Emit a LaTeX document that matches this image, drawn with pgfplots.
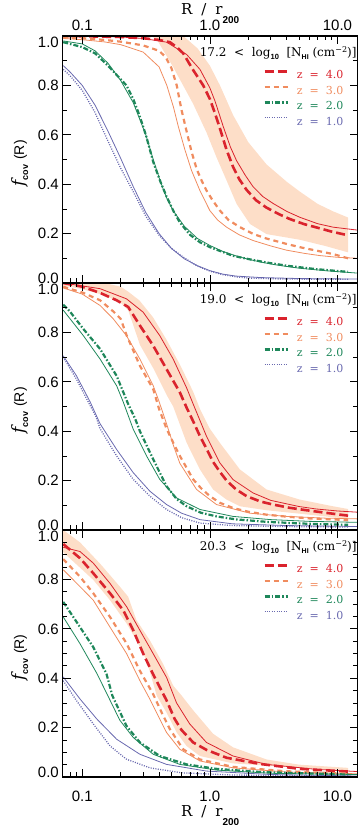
\documentclass[border=0pt]{standalone}
\usepackage{fontspec}
\setmainfont{Liberation Sans}
\newfontfamily\dvs{DejaVu Serif}
\newfontfamily\lsans{Liberation Sans}
\usepackage{pgfplots}
\pgfplotsset{compat=1.18}

\definecolor{zred}{RGB}{218,35,45}
\definecolor{zorange}{RGB}{240,140,95}
\definecolor{zgreen}{RGB}{30,135,90}
\definecolor{zblue}{RGB}{105,105,175}
\definecolor{bandfill}{RGB}{253,222,200}

% tick labels shifted vertically (zero-height boxes)
\newcommand\ytl[2]{\raisebox{#1}[0pt][0pt]{#2}}
\newcommand\Rlabel{{\dvs\fontsize{15}{15}\selectfont R\hspace{0.6em}/\hspace{0.6em}r}\raisebox{-9pt}{\lsans\bfseries\fontsize{10}{10}\selectfont 200}}
\newcommand\fcovlabel{{\dvs\itshape\fontsize{17}{17}\selectfont f}\raisebox{-4pt}{\lsans\bfseries\fontsize{9}{9}\selectfont cov}\hspace{5pt}{\fontsize{14}{14}\selectfont (R)}}
\newcommand\nhi[1]{\node[anchor=base east, inner sep=0pt, xshift=-1pt, yshift=-20.3pt,
  font=\dvs\fontsize{12}{12}\selectfont] at (rel axis cs:1,1)
  {#1\ \ <\ \ log\raisebox{-3pt}{\lsans\bfseries\fontsize{7.5}{7.5}\selectfont 10}\ \ [N\raisebox{-3pt}{\lsans\bfseries\fontsize{7}{7}\selectfont HI}\ (cm\raisebox{4pt}{\fontsize{8}{8}\selectfont −2})]};}
\newcommand\zentry[2]{\addlegendentry{\textcolor{#1}{z\ \ =\ \ #2}}}

% settings shared by the three panels
\pgfplotsset{
  scale only axis, width=295pt, height=247pt,
  xmin=0.0703, xmax=14.4, ymin=0, ymax=1,
  axis on top,
  axis line style={line width=1.2pt},
  tick style={black, line width=0.7pt},
  major tick length=8pt, minor tick length=4.5pt,
  tick align=inside,
  xtick={0.1,1,10},
  minor xtick={0.08,0.09,0.2,0.3,0.4,0.5,0.6,0.7,0.8,0.9,2,3,4,5,6,7,8,9},
  ytick={0,0.2,0.4,0.6,0.8,1},
  yticklabels={\ytl{-1pt}{0.0},\ytl{-5.35pt}{0.2},\ytl{-5.35pt}{0.4},\ytl{-5.35pt}{0.6},\ytl{-5.35pt}{0.8},\ytl{-11.35pt}{1.0}},
  tick label style={font=\fontsize{15}{15}\selectfont},
  yticklabel style={inner sep=0pt, xshift=-3.7pt},
  legend cell align=left,
  legend image code/.code={\draw[#1] (0pt,3.5pt) -- (23pt,3.5pt);},
  legend style={draw=none, fill=none, inner sep=0pt, outer sep=0pt,
    at={(rel axis cs:1,1)}, anchor=north east, xshift=-14.4pt, yshift=-34pt,
    row sep=7pt, column sep=8pt, font=\dvs\fontsize{11}{11}\selectfont,
    nodes={inner sep=0pt, text height=8pt, text depth=0pt}},
}
\pgfplotsset{
  simfour/.style={zred, line width=2.6pt, dash pattern=on 9pt off 4pt},
  simthree/.style={zorange, line width=2.2pt, dash pattern=on 5pt off 4pt},
  simtwo/.style={zgreen, line width=2.2pt, dash pattern=on 5pt off 2pt on 1.5pt off 2pt},
  simone/.style={zblue, line width=1.3pt, dash pattern=on 1pt off 1.4pt},
  fitcurve/.style={#1, line width=0.8pt, forget plot},
  spreadband/.style={fill=bandfill, draw=none, forget plot},
}

\begin{document}
\begin{tikzpicture}[x=1pt,y=1pt]

% ---------------- 17.2 < log N_HI ----------------
\begin{semilogxaxis}[at={(62.7pt,542pt)}, anchor=south west,
  xticklabel pos=upper, xtick pos=both,
  xticklabels={0.1,1.0,10.0}, xticklabel style={inner sep=0pt, yshift=5pt},
  xlabel={\Rlabel},
  xlabel style={at={(rel axis cs:0.5,1)}, anchor=base, yshift=21pt},
  ylabel={\fcovlabel},
  ylabel style={at={(rel axis cs:-0.131,0.484)}, anchor=base},
  minor y tick num=1]
\addplot[spreadband] coordinates {
 (0.34,1.0) (0.62,1.0) (0.8,0.95) (1.0,0.88) (1.2,0.80) (1.52,0.68) (2.0,0.57)
 (2.78,0.48) (4.0,0.41) (5.07,0.37) (7.0,0.32) (9.25,0.29) (12.1,0.265)
 (12.1,0.124) (8.0,0.15) (5.07,0.175) (2.78,0.198) (2.06,0.239) (1.62,0.32)
 (1.352,0.415) (1.127,0.509) (0.94,0.61) (0.74,0.725) (0.516,0.874) (0.38,0.99) (0.34,1.0)} --cycle;
\addplot[fitcurve=zred] coordinates {
 (0.071,1.000) (0.1,0.999) (0.2,0.996) (0.3,0.99) (0.458,0.975) (0.658,0.925)
 (0.836,0.865) (1.0,0.79) (1.1,0.735) (1.27,0.635) (1.45,0.55) (1.62,0.495)
 (1.9,0.435) (2.18,0.39) (2.6,0.35) (3.13,0.322) (4.0,0.29) (5.07,0.266)
 (7.0,0.24) (9.25,0.226) (14.4,0.214)};
\addplot[fitcurve=zorange] coordinates {
 (0.071,0.99) (0.1,0.985) (0.15,0.976) (0.2,0.965) (0.3,0.935) (0.4,0.875)
 (0.46,0.80) (0.52,0.71) (0.565,0.635) (0.637,0.54) (0.719,0.455) (0.836,0.374)
 (1.0,0.293) (1.15,0.255) (1.352,0.226) (1.7,0.195) (2.18,0.172) (3.0,0.15)
 (3.98,0.133) (5.5,0.12) (7.26,0.111) (10.0,0.104) (14.4,0.1)};
\addplot[fitcurve=zgreen] coordinates {
 (0.071,0.98) (0.1,0.968) (0.126,0.94) (0.159,0.89) (0.2,0.82) (0.251,0.73)
 (0.315,0.6) (0.36,0.5) (0.41,0.41) (0.458,0.345) (0.52,0.29) (0.63,0.23)
 (0.8,0.18) (1.0,0.152) (1.26,0.128) (1.6,0.11) (2.0,0.096) (2.5,0.085)
 (3.15,0.075) (4.0,0.067) (5.0,0.06) (6.3,0.055) (8.0,0.05) (10.0,0.046) (14.4,0.04)};
\addplot[fitcurve=zblue] coordinates {
 (0.071,0.88) (0.08,0.855) (0.1,0.80) (0.126,0.72) (0.159,0.615) (0.2,0.505)
 (0.251,0.39) (0.315,0.285) (0.4,0.2) (0.5,0.14) (0.63,0.098) (0.8,0.07)
 (1.0,0.05) (1.26,0.036) (1.6,0.028) (2.5,0.022) (5.0,0.018) (14.4,0.016)};
\addplot[simfour] coordinates {
 (0.071,1.000) (0.1,0.999) (0.2,0.996) (0.3,0.991) (0.4,0.984) (0.486,0.975)
 (0.55,0.955) (0.618,0.93) (0.74,0.862) (0.887,0.80) (1.0,0.745) (1.1,0.685)
 (1.2,0.625) (1.35,0.54) (1.52,0.47) (1.7,0.42) (1.94,0.377) (2.3,0.335)
 (2.78,0.305) (3.5,0.278) (4.23,0.259) (5.5,0.238) (6.84,0.225) (9.0,0.208) (12.1,0.193)};
\zentry{zred}{4.0}
\addplot[simthree] coordinates {
 (0.071,0.995) (0.1,0.991) (0.15,0.984) (0.2,0.977) (0.3,0.962) (0.4,0.94)
 (0.45,0.915) (0.5,0.87) (0.55,0.80) (0.6,0.70) (0.66,0.61) (0.72,0.53)
 (0.79,0.46) (0.87,0.41) (0.94,0.375) (1.05,0.335) (1.2,0.293) (1.4,0.255)
 (1.72,0.226) (2.2,0.198) (2.78,0.18) (4.0,0.158) (5.07,0.145) (7.0,0.13)
 (9.25,0.117) (12.1,0.1)};
\zentry{zorange}{3.0}
\addplot[simtwo] coordinates {
 (0.071,0.975) (0.1,0.955) (0.126,0.93) (0.159,0.88) (0.2,0.825) (0.222,0.80)
 (0.251,0.745) (0.28,0.68) (0.315,0.6) (0.36,0.49) (0.41,0.41) (0.458,0.35)
 (0.52,0.29) (0.582,0.245) (0.7,0.195) (0.836,0.165) (1.0,0.145) (1.52,0.11)
 (2.0,0.097) (2.78,0.083) (4.0,0.07) (6.84,0.056) (12.1,0.045)};
\zentry{zgreen}{2.0}
\addplot[simone] coordinates {
 (0.071,0.865) (0.08,0.84) (0.1,0.78) (0.126,0.69) (0.159,0.575) (0.2,0.465)
 (0.251,0.37) (0.315,0.27) (0.405,0.19) (0.5,0.14) (0.618,0.105) (0.8,0.068)
 (1.0,0.048) (1.26,0.034) (1.6,0.025) (2.0,0.02) (3.15,0.017) (6.3,0.015) (12.1,0.015)};
\zentry{zblue}{1.0}
\nhi{17.2}
\end{semilogxaxis}

% ---------------- 19.0 < log N_HI ----------------
\begin{semilogxaxis}[at={(62.7pt,295pt)}, anchor=south west,
  xticklabels={},
  ylabel={\fcovlabel},
  ylabel style={at={(rel axis cs:-0.131,0.484)}, anchor=base},
  minor y tick num=1]
\addplot[spreadband] coordinates {
 (0.071,1.0) (0.15,1.0) (0.2,0.985) (0.229,0.965) (0.28,0.93) (0.36,0.86)
 (0.458,0.77) (0.582,0.67) (0.74,0.56) (0.836,0.49) (1.0,0.41) (1.197,0.353)
 (1.72,0.245) (2.78,0.164) (5.07,0.123) (9.25,0.096) (12.1,0.085)
 (12.1,0.045) (5.07,0.066) (2.78,0.08) (1.72,0.096) (1.35,0.123) (1.06,0.164)
 (0.836,0.245) (0.658,0.353) (0.516,0.5) (0.458,0.547) (0.36,0.655) (0.283,0.75)
 (0.229,0.89) (0.2,0.92) (0.15,0.95) (0.1,0.975) (0.071,0.99)} --cycle;
\addplot[fitcurve=zred] coordinates {
 (0.071,1.0) (0.138,0.977) (0.222,0.936) (0.30,0.882) (0.405,0.787) (0.516,0.692)
 (0.658,0.575) (0.74,0.51) (0.94,0.38) (1.197,0.272) (1.52,0.204) (2.18,0.15)
 (3.0,0.12) (3.75,0.109) (5.0,0.095) (6.84,0.085) (10.0,0.077) (14.4,0.072)};
\addplot[fitcurve=zorange] coordinates {
 (0.071,0.98) (0.1,0.955) (0.138,0.909) (0.175,0.855) (0.222,0.787) (0.283,0.692)
 (0.36,0.584) (0.4,0.52) (0.458,0.43) (0.52,0.34) (0.582,0.27) (0.787,0.164)
 (1.127,0.103) (2.06,0.068) (4.0,0.055) (8.0,0.048) (14.4,0.045)};
\addplot[fitcurve=zgreen] coordinates {
 (0.071,0.89) (0.102,0.787) (0.138,0.692) (0.186,0.584) (0.209,0.52) (0.251,0.408)
 (0.319,0.30) (0.405,0.205) (0.548,0.13) (0.836,0.083) (1.52,0.055) (3.0,0.042)
 (6.0,0.035) (14.4,0.031)};
\addplot[fitcurve=zblue] coordinates {
 (0.071,0.705) (0.09,0.625) (0.115,0.52) (0.138,0.43) (0.186,0.326) (0.251,0.232)
 (0.339,0.157) (0.458,0.103) (0.6,0.068) (0.836,0.042) (1.5,0.025) (4.0,0.018) (14.4,0.014)};
\addplot[simfour] coordinates {
 (0.071,1.0) (0.1,0.985) (0.138,0.96) (0.186,0.93) (0.229,0.903) (0.283,0.828)
 (0.36,0.746) (0.458,0.651) (0.582,0.557) (0.658,0.495) (0.74,0.44) (0.836,0.38)
 (0.95,0.325) (1.062,0.275) (1.2,0.235) (1.352,0.2) (1.6,0.165) (1.94,0.137)
 (2.5,0.115) (3.13,0.103) (4.2,0.09) (5.72,0.08) (8.0,0.07) (12.1,0.058)};
\zentry{zred}{4.0}
\addplot[simthree] coordinates {
 (0.071,0.985) (0.102,0.96) (0.138,0.93) (0.175,0.885) (0.2,0.855) (0.222,0.79)
 (0.283,0.665) (0.36,0.57) (0.4,0.49) (0.458,0.41) (0.52,0.35) (0.582,0.30)
 (0.66,0.25) (0.74,0.205) (0.85,0.17) (1.0,0.137) (1.2,0.11) (1.52,0.089)
 (2.0,0.074) (2.78,0.062) (4.0,0.054) (6.0,0.047) (9.0,0.043) (12.1,0.04)};
\zentry{zorange}{3.0}
\addplot[simtwo] coordinates {
 (0.071,0.912) (0.08,0.885) (0.102,0.814) (0.138,0.733) (0.186,0.624) (0.229,0.51)
 (0.26,0.45) (0.283,0.40) (0.36,0.286) (0.458,0.177) (0.55,0.125) (0.658,0.096)
 (0.85,0.07) (1.127,0.055) (1.6,0.043) (2.78,0.033) (6.0,0.025) (12.1,0.021)};
\zentry{zgreen}{2.0}
\addplot[simone] coordinates {
 (0.071,0.70) (0.09,0.611) (0.115,0.505) (0.128,0.46) (0.138,0.41) (0.186,0.30)
 (0.251,0.205) (0.339,0.137) (0.458,0.083) (0.6,0.05) (0.836,0.028) (1.5,0.018)
 (4.0,0.014) (12.1,0.012)};
\zentry{zblue}{1.0}
\nhi{19.0}
\end{semilogxaxis}

% ---------------- 20.3 < log N_HI ----------------
\begin{semilogxaxis}[at={(62.7pt,48pt)}, anchor=south west,
  xticklabel pos=lower, xtick pos=both,
  xticklabels={0.1,1.0,10.0}, xticklabel style={inner sep=0pt, yshift=-13.7pt},
  xlabel={\Rlabel},
  xlabel style={at={(rel axis cs:0.5,0)}, anchor=base, yshift=-39.7pt},
  ylabel={\fcovlabel},
  ylabel style={at={(rel axis cs:-0.131,0.484)}, anchor=base},
  minor y tick num=3]
\addplot[spreadband] coordinates {
 (0.071,1.0) (0.096,0.95) (0.14,0.86) (0.197,0.771) (0.229,0.73) (0.266,0.635)
 (0.339,0.553) (0.43,0.458) (0.516,0.37) (0.6,0.33) (0.74,0.27) (1.06,0.175)
 (1.52,0.12) (2.78,0.071) (5.0,0.05) (9.25,0.041) (12.1,0.037)
 (12.1,0.028) (5.07,0.037) (1.52,0.055) (0.836,0.085) (0.658,0.125) (0.55,0.18)
 (0.458,0.26) (0.383,0.33) (0.32,0.471) (0.266,0.553) (0.223,0.621) (0.165,0.716)
 (0.122,0.798) (0.071,0.91)} --cycle;
\addplot[fitcurve=zred] coordinates {
 (0.071,0.93) (0.096,0.913) (0.122,0.866) (0.165,0.784) (0.223,0.689) (0.283,0.594)
 (0.36,0.499) (0.458,0.403) (0.548,0.30) (0.695,0.215) (0.94,0.14) (1.52,0.085)
 (2.78,0.051) (6.84,0.031) (14.4,0.022)};
\addplot[fitcurve=zorange] coordinates {
 (0.071,0.839) (0.096,0.771) (0.122,0.716) (0.165,0.607) (0.223,0.499) (0.283,0.39)
 (0.339,0.315) (0.4,0.24) (0.458,0.18) (0.582,0.112) (0.836,0.065) (1.52,0.037)
 (4.0,0.02) (14.4,0.013)};
\addplot[fitcurve=zgreen] coordinates {
 (0.071,0.648) (0.096,0.54) (0.13,0.42) (0.155,0.34) (0.197,0.23) (0.251,0.16)
 (0.36,0.092) (0.582,0.051) (1.127,0.028) (3.0,0.015) (14.4,0.01)};
\addplot[fitcurve=zblue] coordinates {
 (0.071,0.405) (0.096,0.316) (0.13,0.235) (0.186,0.153) (0.283,0.092) (0.458,0.051)
 (0.94,0.024) (3.0,0.01) (14.4,0.004)};
\addplot[simfour] coordinates {
 (0.071,0.943) (0.096,0.886) (0.122,0.825) (0.165,0.744) (0.209,0.676) (0.251,0.594)
 (0.30,0.5) (0.36,0.415) (0.458,0.31) (0.53,0.235) (0.6,0.19) (0.74,0.14)
 (0.94,0.11) (1.35,0.078) (2.46,0.053) (5.07,0.033) (12.1,0.022)};
\zentry{zred}{4.0}
\addplot[simthree] coordinates {
 (0.071,0.882) (0.096,0.811) (0.122,0.744) (0.165,0.648) (0.223,0.54) (0.283,0.43)
 (0.36,0.335) (0.42,0.26) (0.486,0.194) (0.618,0.112) (0.836,0.071) (1.52,0.041)
 (3.75,0.024) (12.1,0.013)};
\zentry{zorange}{3.0}
\addplot[simtwo] coordinates {
 (0.071,0.709) (0.096,0.607) (0.122,0.526) (0.155,0.417) (0.172,0.33) (0.222,0.207)
 (0.283,0.14) (0.405,0.085) (0.658,0.051) (1.127,0.033) (2.5,0.02) (12.1,0.01)};
\zentry{zgreen}{2.0}
\addplot[simone] coordinates {
 (0.071,0.39) (0.09,0.31) (0.122,0.215) (0.165,0.126) (0.222,0.072) (0.339,0.037)
 (0.6,0.017) (1.5,0.008) (12.1,0.004)};
\zentry{zblue}{1.0}
\nhi{20.3}
\end{semilogxaxis}

\pgfresetboundingbox
\path[use as bounding box] (0,0) rectangle (361,825);
\end{tikzpicture}
\end{document}
